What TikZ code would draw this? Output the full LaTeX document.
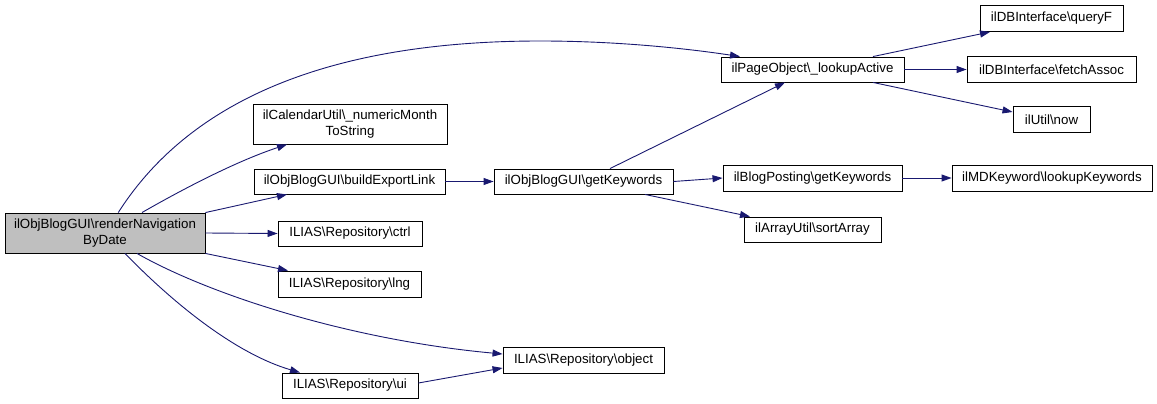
\documentclass[tikz,border=0pt]{standalone}
\usepackage{fontspec}
\setmainfont{Liberation Sans}
\usetikzlibrary{arrows.meta}
\definecolor{callblue}{HTML}{191970}
\definecolor{rootgray}{HTML}{BFBFBF}
\tikzset{
    fn/.style={draw=black,line width=0.9pt,fill=white,inner sep=0pt,align=center,
        font=\fontsize{13.3}{15.5}\selectfont},
    rootfn/.style={fn,fill=rootgray},
    call/.style={draw=callblue,line width=0.9pt,-{Triangle[length=10pt,width=7pt]}}
}
\begin{document}
\begin{tikzpicture}[x=1pt,y=-1pt]
                \useasboundingbox (0,0) rectangle (1157,404);

                \node[rootfn,minimum width=200pt,minimum height=40pt] (render) at (105,233) {ilObjBlogGUI\textbackslash renderNavigation\\ByDate};

                \node[fn,minimum width=194pt,minimum height=40pt] (month) at (350,124) {ilCalendarUtil\textbackslash \_numericMonth\\ToString};
                \node[fn,minimum width=191pt,minimum height=25pt] (export) at (349.5,181.5) {ilObjBlogGUI\textbackslash buildExportLink};
                \node[fn,minimum width=144pt,minimum height=25pt] (ctrl) at (350,233.5) {ILIAS\textbackslash Repository\textbackslash ctrl};
                \node[fn,minimum width=143pt,minimum height=26pt] (lng) at (349.5,284) {ILIAS\textbackslash Repository\textbackslash lng};
                \node[fn,minimum width=136pt,minimum height=25pt] (ui) at (350,385.5) {ILIAS\textbackslash Repository\textbackslash ui};

                \node[fn,minimum width=179pt,minimum height=25pt] (objkw) at (583.5,181.5) {ilObjBlogGUI\textbackslash getKeywords};
                \node[fn,minimum width=161pt,minimum height=26pt] (object) at (583.5,360) {ILIAS\textbackslash Repository\textbackslash object};

                \node[fn,minimum width=183pt,minimum height=25pt] (lookup) at (812.5,69.5) {ilPageObject\textbackslash \_lookupActive};
                \node[fn,minimum width=179pt,minimum height=26pt] (blogkw) at (812.5,178) {ilBlogPosting\textbackslash getKeywords};
                \node[fn,minimum width=137pt,minimum height=25pt] (sort) at (812.5,229.5) {ilArrayUtil\textbackslash sortArray};

                \node[fn,minimum width=143pt,minimum height=26pt] (query) at (1051.5,18.5) {ilDBInterface\textbackslash queryF};
                \node[fn,minimum width=169pt,minimum height=26pt] (fetch) at (1051.5,69.5) {ilDBInterface\textbackslash fetchAssoc};
                \node[fn,minimum width=77pt,minimum height=26pt] (now) at (1051.5,119.5) {ilUtil\textbackslash now};
                \node[fn,minimum width=200pt,minimum height=26pt] (mdkw) at (1052,178) {ilMDKeyword\textbackslash lookupKeywords};

                \draw[call] (render.57) .. controls (190,100) and (330,41) .. (540,41)
                    .. controls (620,41) and (690,49) .. ([xshift=-72.5pt]lookup.north);
                \draw[call] ([xshift=37pt]render.north) .. controls (190,185) and (240,160) .. ([xshift=-63pt]month.south);
                \draw[call] (render.north east) -- ([xshift=-62.5pt]export.south);
                \draw[call] (render.east) -- (ctrl.west);
                \draw[call] (render.south east) -- ([xshift=-61.5pt]lng.north);
                \draw[call] ([xshift=32pt]render.south) .. controls (210,295) and (350,340) .. ([yshift=6pt]object.west);
                \draw[call] ([xshift=20pt]render.south) .. controls (180,310) and (240,355) .. ([xshift=-50pt]ui.north);
                \draw[call] ([yshift=2.5pt]ui.east) -- ([yshift=-8pt]object.west);

                \draw[call] (export.east) -- (objkw.west);
                \draw[call] ([xshift=26.5pt]objkw.north) -- ([xshift=-27.5pt]lookup.south);
                \draw[call] (objkw.east) -- (blogkw.west);
                \draw[call] ([xshift=61.5pt]objkw.south) -- ([xshift=-62.5pt]sort.north);
                \draw[call] (blogkw.east) -- (mdkw.west);

                \draw[call] ([xshift=60.5pt]lookup.north) -- ([xshift=-61.5pt]query.south);
                \draw[call] (lookup.east) -- (fetch.west);
                \draw[call] ([xshift=60.5pt]lookup.south) -- ([yshift=7.5pt]now.west);
            \end{tikzpicture}
\end{document}
